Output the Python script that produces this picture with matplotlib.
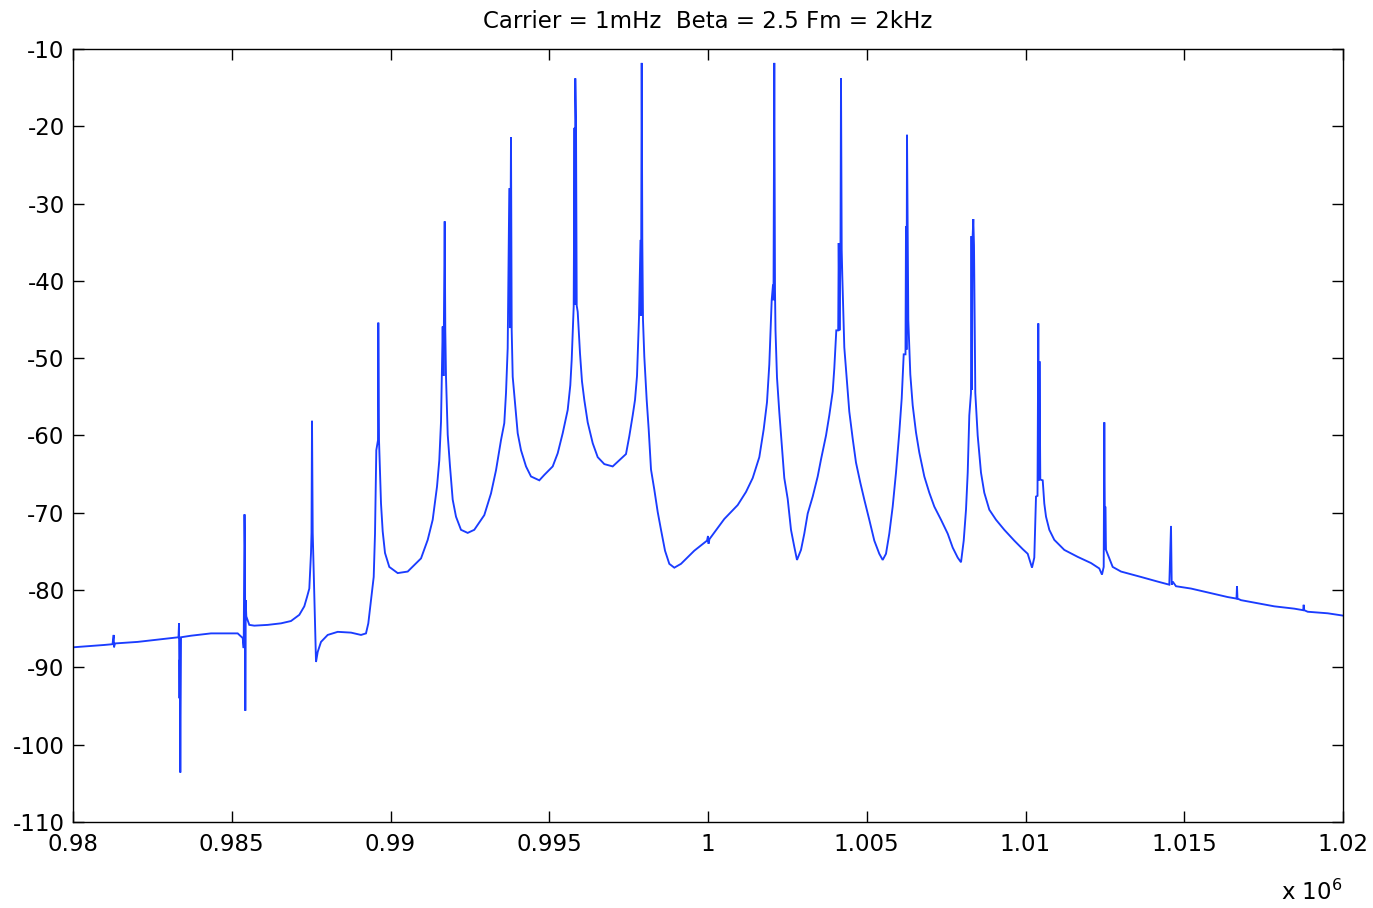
import matplotlib
matplotlib.use("Agg")
import matplotlib.pyplot as plt
from matplotlib.ticker import FixedLocator

plt.rcParams['font.family'] = ['DejaVu Sans']
plt.rcParams['axes.unicode_minus'] = False

title = "Carrier = 1mHz  Beta = 2.5 Fm = 2kHz"

# frequency in kHz (absolute), spectrum level in dB
freq_khz = [
    980.000, 980.976, 981.244, 981.282, 981.291, 981.323, 982.038, 983.087, 983.323, 983.339,
    983.354, 983.364, 983.380, 983.402, 983.717, 984.346, 985.187, 985.345, 985.376, 985.402,
    985.417, 985.427, 985.439, 985.458, 985.553, 985.710, 986.132, 986.551, 986.866, 987.128,
    987.285, 987.370, 987.443, 987.496, 987.512, 987.528, 987.550, 987.654, 987.707, 987.811,
    988.022, 988.337, 988.756, 989.071, 989.228, 989.301, 989.386, 989.471, 989.512, 989.553,
    989.606, 989.616, 989.638, 989.701, 989.754, 989.827, 989.962, 990.227, 990.542, 990.961,
    991.172, 991.329, 991.465, 991.537, 991.591, 991.644, 991.669, 991.707, 991.726, 991.748,
    991.802, 991.874, 991.959, 992.063, 992.220, 992.431, 992.639, 992.954, 993.165, 993.323,
    993.480, 993.584, 993.638, 993.691, 993.742, 993.764, 993.795, 993.817, 993.849, 993.921,
    994.006, 994.110, 994.268, 994.425, 994.687, 994.844, 995.109, 995.266, 995.424, 995.581,
    995.663, 995.707, 995.770, 995.795, 995.811, 995.820, 995.843, 995.865, 995.896, 995.969,
    996.031, 996.104, 996.211, 996.369, 996.526, 996.734, 996.998, 997.206, 997.417, 997.521,
    997.628, 997.701, 997.764, 997.827, 997.874, 997.890, 997.912, 997.931, 997.953, 997.994,
    998.069, 998.132, 998.205, 998.309, 998.416, 998.520, 998.646, 998.781, 998.939, 999.150,
    999.569, 999.969, 1000.000, 1000.016, 1000.047, 1000.513, 1000.935, 1001.197, 1001.408, 1001.616,
    1001.754, 1001.858, 1001.931, 1002.006, 1002.047, 1002.063, 1002.088, 1002.110, 1002.126, 1002.173,
    1002.246, 1002.321, 1002.403, 1002.510, 1002.614, 1002.718, 1002.803, 1002.929, 1003.033, 1003.140,
    1003.298, 1003.455, 1003.559, 1003.717, 1003.820, 1003.928, 1003.978, 1004.041, 1004.101, 1004.117,
    1004.142, 1004.173, 1004.189, 1004.211, 1004.230, 1004.293, 1004.369, 1004.450, 1004.557, 1004.661,
    1004.797, 1004.923, 1005.080, 1005.238, 1005.395, 1005.502, 1005.606, 1005.710, 1005.817, 1005.921,
    1006.025, 1006.101, 1006.164, 1006.220, 1006.236, 1006.252, 1006.268, 1006.290, 1006.309, 1006.372,
    1006.447, 1006.551, 1006.655, 1006.813, 1006.970, 1007.128, 1007.339, 1007.550, 1007.707, 1007.865,
    1007.969, 1008.054, 1008.126, 1008.180, 1008.230, 1008.283, 1008.299, 1008.315, 1008.331, 1008.356,
    1008.378, 1008.419, 1008.494, 1008.598, 1008.702, 1008.860, 1009.071, 1009.332, 1009.647, 1009.912,
    1010.069, 1010.205, 1010.277, 1010.331, 1010.378, 1010.403, 1010.425, 1010.441, 1010.466, 1010.542,
    1010.592, 1010.646, 1010.750, 1010.907, 1011.222, 1011.644, 1012.063, 1012.324, 1012.409, 1012.463,
    1012.482, 1012.504, 1012.513, 1012.535, 1012.620, 1012.746, 1013.008, 1013.638, 1014.164, 1014.529,
    1014.583, 1014.605, 1014.636, 1014.740, 1015.213, 1015.739, 1016.369, 1016.646, 1016.661, 1016.677,
    1016.787, 1017.313, 1017.836, 1018.466, 1018.746, 1018.762, 1018.778, 1018.888, 1019.518, 1020.000,
]

level_db = [
    -87.4, -87.1, -87.0, -85.8, -87.4, -86.9, -86.7, -86.2, -86.1, -84.3,
    -94.0, -89.0, -103.6, -86.1, -85.9, -85.6, -85.6, -86.2, -87.5, -70.2,
    -74.8, -95.6, -81.3, -83.4, -84.5, -84.6, -84.5, -84.3, -84.0, -83.2,
    -82.1, -80.9, -79.8, -75.2, -72.6, -58.1, -72.6, -89.3, -88.0, -86.7,
    -85.8, -85.4, -85.5, -85.8, -85.6, -84.3, -81.3, -78.3, -72.7, -61.9,
    -60.6, -45.4, -60.6, -68.8, -72.4, -75.2, -77.0, -77.8, -77.6, -75.9,
    -73.5, -70.9, -66.6, -63.2, -58.2, -45.9, -52.3, -32.3, -46.4, -52.4,
    -59.9, -64.0, -68.3, -70.5, -72.2, -72.6, -72.2, -70.3, -67.5, -64.5,
    -60.6, -58.4, -54.5, -48.7, -28.0, -46.1, -21.4, -46.4, -52.4, -55.8,
    -59.7, -61.9, -64.0, -65.3, -65.8, -65.1, -64.0, -62.3, -59.7, -56.7,
    -53.5, -50.2, -43.3, -20.2, -43.1, -13.8, -19.8, -43.2, -44.0, -49.4,
    -53.0, -55.4, -58.3, -61.0, -62.8, -63.7, -64.0, -63.2, -62.4, -60.1,
    -57.4, -55.4, -52.3, -44.7, -34.7, -44.5, -11.8, -34.7, -45.1, -49.8,
    -55.4, -59.2, -64.4, -67.0, -69.9, -72.2, -74.9, -76.6, -77.1, -76.6,
    -74.9, -73.6, -73.0, -74.0, -73.4, -70.8, -69.0, -67.3, -65.5, -62.8,
    -59.2, -55.7, -50.8, -42.5, -40.5, -42.5, -11.8, -41.2, -46.4, -52.5,
    -57.0, -61.0, -65.5, -68.2, -72.2, -74.4, -76.1, -74.8, -72.7, -70.1,
    -67.9, -65.3, -63.1, -60.0, -57.4, -54.3, -51.3, -46.4, -46.4, -35.1,
    -46.4, -35.4, -13.8, -36.0, -39.4, -48.6, -52.6, -56.9, -60.4, -63.5,
    -66.1, -68.3, -70.9, -73.6, -75.3, -76.1, -75.3, -72.7, -69.2, -64.8,
    -59.6, -55.2, -49.5, -49.5, -32.9, -48.9, -21.1, -33.4, -45.1, -52.1,
    -56.1, -59.6, -62.2, -65.3, -67.4, -69.2, -70.9, -72.7, -74.5, -75.8,
    -76.4, -73.6, -69.6, -64.8, -57.4, -54.5, -34.2, -54.1, -34.7, -32.0,
    -35.4, -54.5, -60.0, -64.8, -67.4, -69.6, -70.9, -72.2, -73.6, -74.7,
    -75.3, -77.1, -75.8, -67.9, -67.8, -45.5, -65.8, -50.4, -65.7, -65.8,
    -68.8, -70.5, -72.2, -73.5, -74.8, -75.7, -76.5, -77.2, -78.0, -77.0,
    -58.3, -74.8, -69.2, -74.8, -75.7, -77.0, -77.6, -78.3, -78.9, -79.3,
    -71.7, -79.3, -78.9, -79.5, -79.8, -80.3, -80.9, -81.1, -79.5, -81.1,
    -81.3, -81.7, -82.1, -82.4, -82.6, -81.9, -82.6, -82.8, -83.0, -83.3,
]

x_ticks = [980, 985, 990, 995, 1000, 1005, 1010, 1015, 1020]
x_tick_labels = ["0.98", "0.985", "0.99", "0.995", "1", "1.005", "1.01", "1.015", "1.02"]
y_ticks = [-110, -100, -90, -80, -70, -60, -50, -40, -30, -20, -10]

W, H = 1373, 908
fig = plt.figure(figsize=(W / 100, H / 100), dpi=100)
ax = fig.add_axes([73 / W, 1 - 822 / H, (1343 - 73) / W, (822 - 49) / H])

ax.plot(freq_khz, level_db, color='#1a3cff', linewidth=1.35, solid_joinstyle='miter')

ax.set_xlim(980, 1020)
ax.set_ylim(-110, -10)
ax.xaxis.set_major_locator(FixedLocator(x_ticks))
ax.set_xticklabels(x_tick_labels)
ax.yaxis.set_major_locator(FixedLocator(y_ticks))
ax.set_yticklabels([str(v) for v in y_ticks])

ax.tick_params(direction='in', length=8, width=1.0, labelsize=16.5,
               top=True, right=True, colors='black')
ax.tick_params(axis='x', pad=8)
ax.tick_params(axis='y', pad=6)
for s in ax.spines.values():
    s.set_linewidth(1.0)
    s.set_color('black')

ax.set_title(title, fontsize=16.5, pad=15)
fig.text(1342 / W, 1 - 900 / H, r'x 10$^{6}$', ha='right', va='baseline', fontsize=16.5)

fig.savefig('out.png', dpi=100)
